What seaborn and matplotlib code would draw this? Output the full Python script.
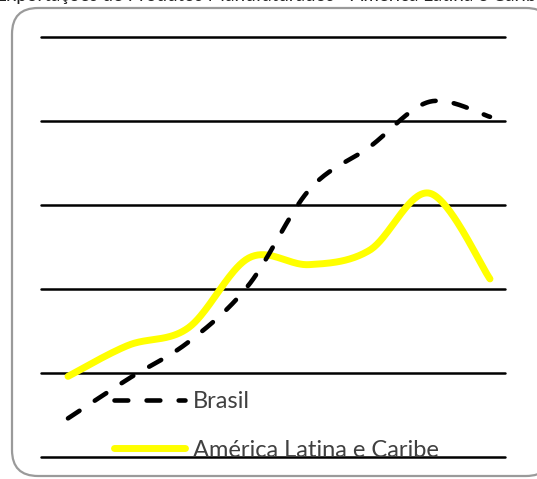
import numpy as np
import pandas as pd
import seaborn as sns
import matplotlib.pyplot as plt
from matplotlib.patches import FancyBboxPatch

# Series values (index of the period along the horizontal axis)
periodos = [0, 1, 2, 3, 4, 5, 6, 7]
brasil = [0.46, 0.93, 1.37, 2.05, 3.18, 3.69, 4.23, 4.05]
america_latina = [0.96, 1.33, 1.54, 2.37, 2.29, 2.46, 3.14, 2.12]
niveis_grade = [0, 1, 2, 3, 4, 5]
rotulos = ["Brasil", "América Latina e Caribe"]
titulo = "Exportações de Produtos Manufaturados - América Latina e Caribe e Brasil"


def suavizar(xs, ys, n=40):
    """Smoothed (Bezier / Catmull-Rom) path through the given points."""
    P = np.column_stack([xs, ys]).astype(float)
    ext = np.vstack([P[0], P, P[-1]])
    partes = []
    for i in range(len(P) - 1):
        p0, p1, p2, p3 = ext[i], ext[i + 1], ext[i + 2], ext[i + 3]
        c1 = p1 + (p2 - p0) / 6.0
        c2 = p2 - (p3 - p1) / 6.0
        t = np.linspace(0, 1, n, endpoint=(i == len(P) - 2))[:, None]
        b = ((1 - t) ** 3) * p1 + 3 * ((1 - t) ** 2) * t * c1 \
            + 3 * (1 - t) * (t ** 2) * c2 + (t ** 3) * p2
        partes.append(b)
    return np.vstack(partes)


sns.set_theme(style="white")
plt.rcParams["font.family"] = ["Lato", "DejaVu Sans"]

W, H = 537, 479
fig = plt.figure(figsize=(W / 100, H / 100), dpi=100)

# Background layer in pixel units: rounded frame and the title strip
fundo = fig.add_axes([0, 0, 1, 1], zorder=0)
fundo.set_xlim(0, W)
fundo.set_ylim(H, 0)
fundo.axis("off")
moldura = FancyBboxPatch((12, 8), 552 - 12, 476 - 8,
                         boxstyle="round,pad=0,rounding_size=26",
                         facecolor="white", edgecolor="#9a9a9a", linewidth=1.6)
fundo.add_patch(moldura)
fundo.text(-4, 0.9, titulo, fontsize=13.5, color="#222222", ha="left",
           va="baseline")

# Plot area
ax = fig.add_axes([41 / W, 1 - 457 / H, 464 / W, 420 / H], zorder=1)
ax.set_facecolor("none")

for g in niveis_grade:
    ax.axhline(g, color="black", linewidth=1.8, zorder=1, clip_on=False)

cb = suavizar(periodos, brasil)
ca = suavizar(periodos, america_latina)
df_b = pd.DataFrame({"x": cb[:, 0], "y": cb[:, 1]})
df_a = pd.DataFrame({"x": ca[:, 0], "y": ca[:, 1]})

sns.lineplot(data=df_a, x="x", y="y", sort=False, estimator=None, ax=ax,
             color="#FFFF00", linewidth=5.0, label=rotulos[1], zorder=3,
             solid_capstyle="round")
sns.lineplot(data=df_b, x="x", y="y", sort=False, estimator=None, ax=ax,
             color="black", linewidth=3.3, label=rotulos[0], zorder=4,
             dash_capstyle="round")
ax.lines[-1].set_dashes((3.0, 4.0))

ax.set_xlim(-0.448, 7.249)
ax.set_ylim(0, 5)
ax.axis("off")

handles, labels = ax.get_legend_handles_labels()
ordem = [labels.index(r) for r in rotulos]
leg = ax.legend([handles[i] for i in ordem], [labels[i] for i in ordem],
                loc="center left", bbox_to_anchor=(114 / W, 1 - 426 / H),
                bbox_transform=fig.transFigure, frameon=False, fontsize=17,
                handlelength=3.0, handletextpad=0.34, labelspacing=1.15,
                borderpad=0, borderaxespad=0)
for t in leg.get_texts():
    t.set_color("#404040")

fig.savefig("out.png", dpi=100)
